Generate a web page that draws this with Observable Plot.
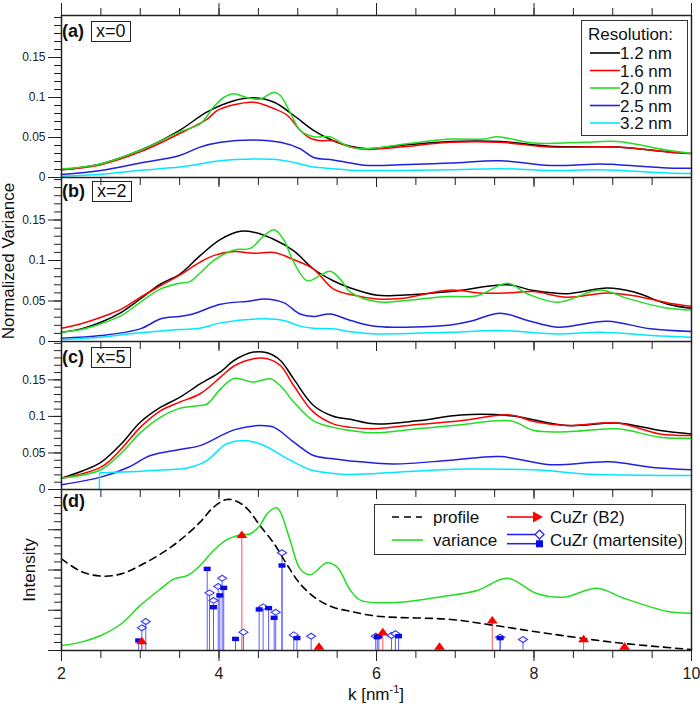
<!DOCTYPE html>
<html>
<head>
<meta charset="utf-8">
<script src="https://cdn.jsdelivr.net/npm/d3@7"></script>
<script src="https://cdn.jsdelivr.net/npm/@observablehq/plot@0.6"></script>
<style>
  html,body{margin:0;padding:0;background:#fff;}
  body{font-family:"Liberation Sans",Arial,Helvetica,sans-serif;color:#111;}
  #wrap{position:relative;width:700px;height:704px;overflow:hidden;}
  #wrap > svg{position:absolute;left:0;top:0;}
  .abs{position:absolute;white-space:nowrap;}
  .plab{font-size:18px;line-height:19px;}
  .xbox{display:inline-block;border:1.5px solid #222;padding:0 4px;margin-left:7px;font-weight:normal;}
  .rot{transform:translate(-50%,-50%) rotate(-90deg);font-size:17px;}
  .ctr{transform:translate(-50%,-50%);font-size:17px;}
  .leg{position:absolute;box-sizing:border-box;border:1.5px solid #333;background:#fff;}
  .leg svg{position:absolute;left:0;top:0;}
</style>
</head>
<body>
<div id="wrap"></div>
<script>
// ---------------- data ----------------
const resLabels = ["1.2 nm", "1.6 nm", "2.0 nm", "2.5 nm", "3.2 nm"];
const resColors = ["#000000", "#ff0000", "#22dd22", "#2020e0", "#00e8ff"];
const panelNames = ["(a)", "(b)", "(c)", "(d)"];
const panelTags = ["x=0", "x=2", "x=5"];
const xTicksMajor = [2, 4, 6, 8, 10];
const xTickLabels = ["2", "4", "6", "8", "10"];
const yTicksMajor = [0, 0.05, 0.1, 0.15];
const yTickLabels = ["0", "0.05", "0.1", "0.15"];
const dTicksMajor = [0, 25, 50, 75, 100];

// panel (a) x=0   [k, normalized variance]
const a12 = [[2,0.0096],[2.5,0.017],[3,0.034],[3.5,0.059],[3.85,0.082],[4.19,0.096],[4.44,0.0996],[4.7,0.094],[4.95,0.0775],[5.2,0.059],[5.45,0.046],[5.67,0.039],[5.89,0.036],[6.3,0.04],[6.94,0.045],[7.57,0.045],[8.2,0.039],[9.06,0.038],[9.7,0.032],[10,0.030]];
const a16 = [[2,0.0096],[2.5,0.016],[3,0.032],[3.5,0.055],[3.85,0.073],[3.98,0.084],[4.19,0.091],[4.44,0.094],[4.7,0.086],[4.87,0.0775],[5.03,0.059],[5.16,0.049],[5.29,0.046],[5.45,0.046],[5.67,0.038],[5.89,0.035],[6.3,0.038],[6.94,0.044],[7.57,0.044],[8.2,0.038],[9.06,0.038],[9.7,0.032],[10,0.030]];
const a20 = [[2,0.0105],[2.5,0.017],[3,0.034],[3.5,0.057],[3.76,0.067],[3.93,0.088],[4.06,0.100],[4.19,0.1046],[4.35,0.1],[4.52,0.098],[4.7,0.1067],[4.78,0.1025],[4.91,0.080],[5.03,0.059],[5.2,0.051],[5.41,0.051],[5.54,0.044],[5.67,0.038],[5.89,0.036],[6.3,0.041],[6.94,0.048],[7.37,0.048],[7.53,0.051],[7.99,0.043],[8.63,0.044],[9.06,0.045],[9.7,0.034],[10,0.030]];
const a25 = [[2,0.0037],[2.5,0.0087],[3,0.018],[3.5,0.0275],[3.76,0.038],[4.02,0.044],[4.44,0.047],[4.78,0.044],[5.03,0.036],[5.2,0.025],[5.45,0.022],[5.67,0.018],[5.89,0.015],[6.3,0.016],[6.94,0.018],[7.57,0.021],[8.2,0.015],[8.84,0.017],[9.06,0.016],[9.7,0.012],[10,0.0115]];
const a32 = [[2,0.0017],[2.5,0.004],[3,0.009],[3.5,0.013],[3.76,0.017],[4.02,0.021],[4.44,0.023],[4.78,0.022],[5.03,0.017],[5.2,0.013],[5.45,0.011],[5.67,0.009],[5.89,0.0087],[6.3,0.0087],[6.94,0.0097],[7.57,0.011],[8.2,0.0087],[8.84,0.0097],[9.7,0.0057],[10,0.005]];

// panel (b) x=2
const b12 = [[2,0.0115],[2.25,0.0156],[2.5,0.0238],[2.76,0.036],[3,0.0525],[3.26,0.071],[3.5,0.083],[3.76,0.106],[4.02,0.126],[4.27,0.136],[4.44,0.135],[4.7,0.126],[4.95,0.112],[5.2,0.0895],[5.45,0.075],[5.67,0.066],[6.01,0.057],[6.3,0.057],[6.94,0.0616],[7.66,0.070],[7.99,0.063],[8.42,0.059],[8.93,0.066],[9.27,0.061],[9.7,0.046],[10,0.041]];
const b16 = [[2,0.0164],[2.25,0.022],[2.5,0.030],[2.76,0.040],[3,0.0546],[3.26,0.069],[3.5,0.082],[3.76,0.098],[3.93,0.106],[4.19,0.111],[4.44,0.109],[4.7,0.110],[4.95,0.101],[5.2,0.0895],[5.45,0.065],[5.67,0.058],[6.01,0.0525],[6.3,0.053],[6.94,0.0636],[7.3,0.060],[7.66,0.060],[7.99,0.0616],[8.42,0.0546],[8.93,0.060],[9.27,0.0566],[9.7,0.0476],[10,0.0435]];
const b20 = [[2,0.0115],[2.25,0.0148],[2.5,0.022],[2.76,0.032],[3,0.0484],[3.26,0.065],[3.5,0.072],[3.63,0.074],[3.76,0.0846],[3.93,0.0998],[4.19,0.113],[4.4,0.115],[4.57,0.1305],[4.7,0.138],[4.82,0.126],[4.95,0.0977],[5.12,0.075],[5.29,0.082],[5.41,0.0866],[5.54,0.077],[5.67,0.061],[6.01,0.049],[6.3,0.050],[6.86,0.0554],[7.28,0.0566],[7.66,0.072],[7.92,0.0587],[8.3,0.0484],[8.84,0.0636],[9.19,0.053],[9.7,0.041],[10,0.039]];
const b25 = [[2,0.0041],[2.5,0.0074],[3,0.0156],[3.26,0.028],[3.5,0.031],[3.67,0.034],[4.02,0.046],[4.4,0.050],[4.57,0.0525],[4.82,0.048],[5.03,0.034],[5.2,0.031],[5.41,0.034],[5.67,0.026],[6.01,0.0185],[6.94,0.0205],[7.23,0.026],[7.57,0.035],[7.92,0.026],[8.3,0.0177],[8.93,0.025],[9.48,0.0156],[10,0.0123]];
const b32 = [[2,0.0025],[2.5,0.0053],[3,0.0107],[3.5,0.0148],[3.76,0.0164],[4.02,0.023],[4.57,0.028],[4.82,0.026],[5.03,0.019],[5.2,0.0164],[5.45,0.0156],[5.67,0.012],[6.01,0.0094],[6.94,0.0115],[7.57,0.0135],[8.3,0.0094],[8.84,0.0115],[9.5,0.0074],[10,0.0053]];

// panel (c) x=5
const c12 = [[2,0.0155],[2.28,0.026],[2.5,0.037],[2.76,0.0625],[3,0.092],[3.26,0.1126],[3.5,0.126],[3.76,0.1445],[4.02,0.161],[4.19,0.1765],[4.44,0.188],[4.61,0.187],[4.78,0.1765],[4.95,0.151],[5.2,0.115],[5.45,0.1003],[5.67,0.096],[5.97,0.0898],[6.52,0.094],[7.07,0.102],[7.7,0.101],[8.42,0.0875],[9.06,0.091],[9.6,0.0807],[10,0.076]];
const c16 = [[2,0.0155],[2.5,0.0305],[2.76,0.0556],[3,0.085],[3.26,0.108],[3.5,0.1195],[3.76,0.131],[4.02,0.1537],[4.19,0.169],[4.44,0.179],[4.61,0.179],[4.78,0.1696],[4.95,0.142],[5.2,0.1058],[5.45,0.0898],[5.67,0.085],[5.97,0.083],[6.52,0.089],[7.07,0.094],[7.7,0.102],[8,0.093],[8.42,0.0875],[9.06,0.091],[9.6,0.076],[10,0.074]];
const c20 = [[2,0.0155],[2.5,0.027],[2.76,0.050],[3,0.0775],[3.26,0.099],[3.5,0.111],[3.76,0.115],[3.85,0.117],[4.02,0.1377],[4.19,0.152],[4.44,0.147],[4.65,0.1514],[4.78,0.142],[4.95,0.1195],[5.2,0.094],[5.45,0.085],[5.67,0.0807],[5.97,0.0775],[6.52,0.083],[7.07,0.0885],[7.7,0.094],[8,0.0807],[8.42,0.079],[9.06,0.083],[9.6,0.0716],[10,0.070]];
const c25 = [[2,0.0064],[2.5,0.0169],[2.85,0.0305],[3.13,0.0465],[3.5,0.0547],[3.76,0.060],[4.19,0.0816],[4.52,0.0875],[4.7,0.085],[4.95,0.0648],[5.2,0.0465],[5.45,0.042],[5.67,0.039],[6.22,0.035],[6.94,0.040],[7.57,0.045],[8.2,0.034],[8.96,0.038],[9.48,0.0305],[10,0.027]];
const c32 = [[2.48,0],[2.485,0.0228],[3,0.025],[3.13,0.026],[3.5,0.028],[3.85,0.040],[4.1,0.0625],[4.31,0.067],[4.52,0.0625],[4.87,0.042],[5.16,0.027],[5.45,0.022],[5.67,0.0205],[6.3,0.024],[7.2,0.028],[8,0.027],[8.7,0.021],[10,0.019]];

// panel (d)  [k, intensity (arb.)]
const profile = [[2,56.9],[2.25,49.1],[2.5,46.2],[2.76,47.6],[3,52.8],[3.26,60.0],[3.5,68.3],[3.76,79.7],[3.93,89.0],[4.1,93.8],[4.23,92.5],[4.36,88.0],[4.52,77.6],[4.7,66.3],[4.87,52.8],[5.03,41.4],[5.24,32.1],[5.45,26.9],[5.67,24.3],[6.01,21.3],[6.94,19.3],[7.45,15.9],[8.2,10.4],[9.06,4.8],[10,0.6]];
const variance = [[2,3.1],[2.25,5.2],[2.5,9.3],[2.76,16.6],[3,28.0],[3.26,38.3],[3.43,44.5],[3.6,46.6],[3.76,52.8],[3.93,62.1],[4.1,68.9],[4.27,71.8],[4.4,72.5],[4.52,77.6],[4.61,84.9],[4.73,88.6],[4.78,85.9],[4.91,67.3],[5.03,50.7],[5.16,47.0],[5.37,54.5],[5.5,51.8],[5.67,37.3],[5.8,31.1],[6.3,30.0],[6.86,33.7],[7.28,37.3],[7.66,44.9],[8.04,35.2],[8.38,33.1],[8.8,38.7],[9.14,32.5],[9.7,24.2],[10,23.2]];
const b2K = [3.02, 4.29, 5.27, 6.08, 6.80, 7.47, 8.63, 9.15];
const b2I = [5.8, 71.8, 2.3, 11.4, 2.3, 18.6, 7.0, 2.3];
const mDiaK = [3.02, 3.07, 3.88, 3.93, 3.99, 4.04, 4.31, 4.56, 4.72, 4.80, 4.95, 5.17, 5.99, 6.19, 6.24, 7.57, 7.86];
const mDiaI = [14.1, 18.0, 35.8, 31.1, 39.8, 44.9, 11.4, 27.1, 23.8, 60.7, 9.7, 8.9, 8.9, 9.3, 10.4, 8.3, 6.8];
const mSqK = [2.98, 3.85, 3.93, 4.01, 4.06, 4.21, 4.51, 4.63, 4.70, 4.80, 4.99, 6.01, 6.03, 6.28, 7.57];
const mSqI = [6.2, 50.7, 26.9, 34.2, 38.9, 7.2, 25.5, 26.3, 20.3, 52.8, 7.7, 8.3, 8.9, 8.9, 7.7];
const legendD = ["profile", "variance", "CuZr (B2)", "CuZr (martensite)"];

// ---------------- drawing ----------------
const FONT = '"Liberation Sans", Arial, Helvetica, sans-serif';
const INK = "#222";
const wrap = document.getElementById("wrap");
const xMinor = d3.range(2, 10.0001, 0.5);
const vMinor = d3.range(0, 0.2001, 0.01);
const dMinor = d3.range(0, 100.001, 5);
const baseStyle = {background: "transparent", overflow: "visible", fontFamily: FONT, color: "#222"};
const lineOpts = (c, curve = "catmull-rom") => ({x: d => d[0], y: d => d[1], stroke: c, strokeWidth: 1.5, curve});

function variancePanel(top, bottom, series, isTop) {
  const yMax = 0.2025;
  const marks = [
    Plot.axisY({ticks: vMinor, tickSize: 7, tickFormat: () => "", label: null, stroke: INK}),
    Plot.axisY({ticks: yTicksMajor, tickSize: 13, tickPadding: 3, fontSize: 12,
      tickFormat: d => yTickLabels[yTicksMajor.indexOf(d)], label: null, stroke: INK}),
    Plot.axisX({anchor: "bottom", ticks: xMinor, tickSize: 8, tickFormat: () => "", label: null, stroke: INK}),
    Plot.axisX({anchor: "bottom", ticks: xTicksMajor, tickSize: 10, tickFormat: () => "", label: null, stroke: INK})
  ];
  if (isTop) {
    marks.push(
      Plot.axisX({anchor: "top", ticks: xMinor, tickSize: 8, tickFormat: () => "", label: null, stroke: INK}),
      Plot.axisX({anchor: "top", ticks: xTicksMajor, tickSize: 13, tickFormat: () => "", label: null, stroke: INK}),
      Plot.ruleY([yMax], {stroke: INK, strokeWidth: 1.5})
    );
  }
  series.forEach((s, i) => {
    const curve = s[0][1] === 0 ? "monotone-x" : "catmull-rom";
    marks.push(Plot.line(s, lineOpts(resColors[i], curve)));
  });
  marks.push(
    Plot.ruleY([0], {stroke: INK, strokeWidth: 1.5}),
    Plot.ruleX([2], {stroke: INK, strokeWidth: 1.5}),
    Plot.ruleX([10], {stroke: INK, strokeWidth: 1.5})
  );
  return Plot.plot({
    width: 700, height: bottom + 16,
    marginTop: top, marginBottom: 16, marginLeft: 61, marginRight: 9,
    x: {domain: [2, 10]}, y: {domain: [0, yMax]},
    style: baseStyle, marks
  });
}

const panelBounds = [[15, 177], [177, 341], [341, 489], [489, 650]];
const allSeries = [[a12, a16, a20, a25, a32], [b12, b16, b20, b25, b32], [c12, c16, c20, c25, c32]];
allSeries.forEach((s, i) => wrap.appendChild(variancePanel(panelBounds[i][0], panelBounds[i][1], s, i === 0)));

// panel (d)
const diamondFlat = {draw(ctx) { ctx.moveTo(0, -3); ctx.lineTo(4.5, 0); ctx.lineTo(0, 3); ctx.lineTo(-4.5, 0); ctx.closePath(); }};
const rectFlat = {draw(ctx) { ctx.rect(-3.5, -2.2, 7, 4.4); }};
const triUp = {draw(ctx) { ctx.moveTo(0, -4.5); ctx.lineTo(5.5, 3); ctx.lineTo(-5.5, 3); ctx.closePath(); }};
const b2 = b2K.map((k, i) => ({k, v: b2I[i]}));
const mDia = mDiaK.map((k, i) => ({k, v: mDiaI[i]}));
const mSq = mSqK.map((k, i) => ({k, v: mSqI[i]}));

const pd = Plot.plot({
  width: 700, height: 704,
  marginTop: 489, marginBottom: 54, marginLeft: 61, marginRight: 9,
  x: {domain: [2, 10]}, y: {domain: [0, 100]},
  style: baseStyle,
  marks: [
    Plot.axisY({ticks: dMinor, tickSize: 7, tickFormat: () => "", label: null, stroke: INK}),
    Plot.axisY({ticks: dTicksMajor, tickSize: 13, tickFormat: () => "", label: null, stroke: INK}),
    Plot.axisX({anchor: "bottom", ticks: xMinor, tickSize: 8, tickFormat: () => "", label: null, stroke: INK}),
    Plot.axisX({anchor: "bottom", ticks: xTicksMajor, tickSize: 11, tickPadding: 6, fontSize: 16,
      tickFormat: d => xTickLabels[xTicksMajor.indexOf(d)], label: null, stroke: INK}),
    Plot.ruleX(mDia, {x: "k", y1: 0, y2: "v", stroke: "#5c5cff", strokeWidth: 1}),
    Plot.ruleX(mSq, {x: "k", y1: 0, y2: "v", stroke: "#5c5cff", strokeWidth: 1}),
    Plot.ruleX(b2, {x: "k", y1: 0, y2: "v", stroke: "#ff5050", strokeWidth: 1}),
    Plot.line(profile, {x: d => d[0], y: d => d[1], stroke: "#000", strokeWidth: 1.6, strokeDasharray: "7,5", curve: "catmull-rom"}),
    Plot.line(variance, lineOpts("#22dd22")),
    Plot.dot(mDia, {x: "k", y: "v", symbol: diamondFlat, r: 4, fill: "#fff", stroke: "#3535ff", strokeWidth: 1.1}),
    Plot.dot(mSq, {x: "k", y: "v", symbol: rectFlat, r: 4, fill: "#0a0ae6", stroke: "none"}),
    Plot.dot(b2, {x: "k", y: "v", symbol: triUp, r: 4, fill: "#ff0000", stroke: "none"}),
    Plot.ruleY([0], {stroke: INK, strokeWidth: 1.5}),
    Plot.ruleX([2], {stroke: INK, strokeWidth: 1.5}),
    Plot.ruleX([10], {stroke: INK, strokeWidth: 1.5})
  ]
});
wrap.appendChild(pd);

// ---------------- text overlays ----------------
function addDiv(html, cls, left, top) {
  const d = document.createElement("div");
  d.className = "abs " + cls;
  d.style.left = left + "px";
  d.style.top = top + "px";
  d.innerHTML = html;
  wrap.appendChild(d);
  return d;
}
const labelTops = [21, 181, 347, 492];
panelNames.forEach((n, i) => {
  const tag = i < panelTags.length ? `<span class="xbox">${panelTags[i]}</span>` : "";
  addDiv(`<b>${n}</b>${tag}`, "plab", 62, labelTops[i]);
});
addDiv("Normalized Variance", "rot", 9, 261);
addDiv("Intensity", "rot", 30, 570);
addDiv("k [nm<sup style=\"font-size:11px;vertical-align:7px\">-1</sup>]", "ctr", 376, 694);

// legend (a)
const legA = document.createElement("div");
legA.className = "leg";
Object.assign(legA.style, {left: "581px", top: "20px", width: "107px", height: "116px"});
let sA = `<svg width="107" height="116" font-family='${FONT}' font-size="17" fill="#111">`;
sA += `<text x="6" y="19">Resolution:</text>`;
const rowY = [32, 49.5, 67, 84.5, 102];
resLabels.forEach((lab, i) => {
  sA += `<line x1="8" x2="38" y1="${rowY[i]}" y2="${rowY[i]}" stroke="${resColors[i]}" stroke-width="1.6"/>`;
  sA += `<text x="38" y="${rowY[i] + 6}">${lab}</text>`;
});
sA += `</svg>`;
legA.innerHTML = sA;
wrap.appendChild(legA);

// legend (d)
const legD = document.createElement("div");
legD.className = "leg";
Object.assign(legD.style, {left: "374px", top: "504px", width: "312px", height: "51px"});
let sD = `<svg width="312" height="51" font-family='${FONT}' font-size="17" fill="#111">`;
sD += `<line x1="17" x2="47" y1="12" y2="12" stroke="#000" stroke-width="1.6" stroke-dasharray="7,5"/>`;
sD += `<text x="58" y="17.5">${legendD[0]}</text>`;
sD += `<line x1="17" x2="48" y1="35" y2="35" stroke="#22dd22" stroke-width="1.6"/>`;
sD += `<text x="58" y="41">${legendD[1]}</text>`;
sD += `<line x1="132" x2="160" y1="12" y2="12" stroke="#ff0000" stroke-width="1.6"/>`;
sD += `<path d="M158,6.5 L168,12 L158,17.5 Z" fill="#ff0000"/>`;
sD += `<text x="175" y="17.5">${legendD[2]}</text>`;
sD += `<line x1="132" x2="160" y1="29.5" y2="29.5" stroke="#2020ff" stroke-width="1.5"/>`;
sD += `<line x1="132" x2="161" y1="38.7" y2="38.7" stroke="#2020ff" stroke-width="1.5"/>`;
sD += `<line x1="164.5" x2="164.5" y1="33" y2="37" stroke="#2020ff" stroke-width="1.2"/>`;
sD += `<path d="M164.5,25 L169,29.5 L164.5,34 L160,29.5 Z" fill="#fff" stroke="#2020ff" stroke-width="1.2"/>`;
sD += `<rect x="161" y="35.3" width="7" height="7" fill="#0a0ae6"/>`;
sD += `<text x="175" y="41">${legendD[3]}</text>`;
sD += `</svg>`;
legD.innerHTML = sD;
wrap.appendChild(legD);
</script>
</body>
</html>
